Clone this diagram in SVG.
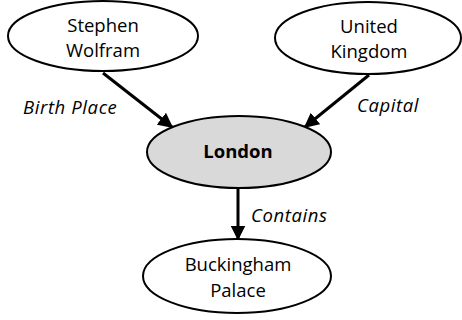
<svg xmlns="http://www.w3.org/2000/svg" width="462" height="320" viewBox="0 0 462 320">
  <style>
    .node { fill: #ffffff; stroke: #000000; stroke-width: 2; }
    .focus { fill: #d9d9d9; }
    .label { font-family: "Open Sans", "Liberation Sans", sans-serif; font-size: 18.5px; fill: #000000; text-anchor: middle; }
    .bold { font-weight: bold; }
    .edge { stroke: #000000; stroke-width: 3; fill: none; marker-end: url(#arrow); }
    .elabel { font-family: "Open Sans", "Liberation Sans", sans-serif; font-size: 18.5px; font-style: italic; letter-spacing: 0.6px; fill: #000000; }
  </style>
  <defs>
    <marker id="arrow" viewBox="0 0 10 10" refX="9" refY="5" markerWidth="5" markerHeight="5" orient="auto" markerUnits="strokeWidth">
      <path d="M0,0 L10,5 L0,10 z" fill="#000000"/>
    </marker>
  </defs>

  <g id="connectors">
    <line class="edge" x1="103" y1="73" x2="172" y2="127"/>
    <line class="edge" x1="369" y1="75" x2="305" y2="127"/>
    <line class="edge" x1="238" y1="188" x2="238" y2="239"/>
    <text class="elabel" x="23" y="114">Birth Place</text>
    <text class="elabel" x="357" y="112">Capital</text>
    <text class="elabel" x="251" y="222">Contains</text>
  </g>

  <g id="stephen-wolfram">
    <ellipse class="node" cx="103" cy="36" rx="95" ry="35"/>
    <text class="label" x="103" y="32">Stephen</text>
    <text class="label" x="103" y="57">Wolfram</text>
  </g>

  <g id="united-kingdom">
    <ellipse class="node" cx="368" cy="38" rx="93" ry="36"/>
    <text class="label" x="369" y="33">United</text>
    <text class="label" x="369" y="58">Kingdom</text>
  </g>

  <g id="london">
    <ellipse class="node focus" cx="239" cy="152" rx="92" ry="36"/>
    <text class="label bold" x="238" y="158">London</text>
  </g>

  <g id="buckingham-palace">
    <ellipse class="node" cx="237" cy="276" rx="94" ry="37"/>
    <text class="label" x="238" y="271">Buckingham</text>
    <text class="label" x="238" y="297">Palace</text>
  </g>
</svg>
